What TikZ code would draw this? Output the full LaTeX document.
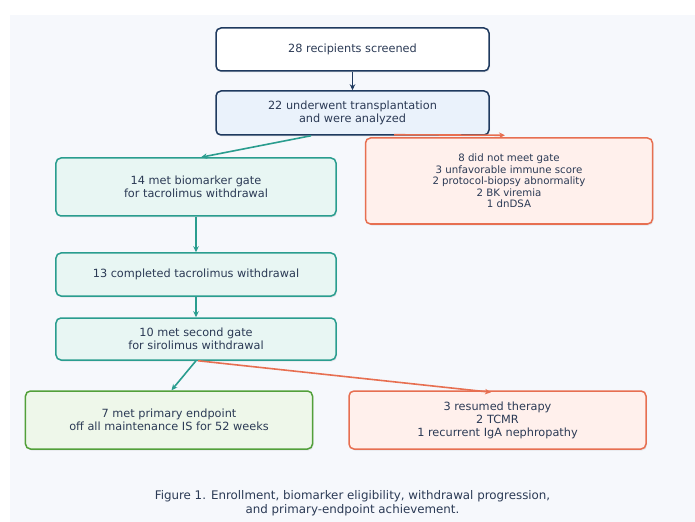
\documentclass[tikz,border=0pt]{standalone}
\usepackage{fontspec}
\setmainfont{DejaVu Sans}
\usetikzlibrary{arrows.meta,calc}
\definecolor{navy}{HTML}{1F3A5F}
\definecolor{txt}{HTML}{2B3A55}
\definecolor{bluefill}{HTML}{EAF2FB}
\definecolor{teal}{HTML}{2A9D8F}
\definecolor{tealfill}{HTML}{E8F6F3}
\definecolor{coral}{HTML}{E76F51}
\definecolor{coralfill}{HTML}{FFF0EC}
\definecolor{grn}{HTML}{52A03A}
\definecolor{grnfill}{HTML}{EEF7EA}
\definecolor{panel}{HTML}{F6F8FC}
\begin{document}
\begin{tikzpicture}[x=1bp,y=-1bp,
  box/.style={draw, rounded corners=5bp, line width=1.5bp, align=center, text=txt,
    inner sep=0pt, font=\fontsize{11.3bp}{13bp}\selectfont},
  navybox/.style={box, draw=navy},
  tealbox/.style={box, draw=teal, fill=tealfill},
  coralbox/.style={box, draw=coral, fill=coralfill},
  grnbox/.style={box, draw=grn, fill=grnfill},
  shadowed/.style={preaction={fill=black, opacity=0.07, transform canvas={xshift=1bp, yshift=-1.5bp}}},
  conn/.style={line width=1.6bp, -{Stealth[length=6bp,width=5.5bp]}},
]
\useasboundingbox (0,0) rectangle (695,522);
\fill[white] (0,0) rectangle (695,522);
\fill[panel] (10,15) rectangle (695,522);

\node[navybox, shadowed, fill=white, minimum width=273bp, minimum height=43bp] (b1) at (352.5,49.5) {28 recipients screened};
\node[navybox, shadowed, fill=bluefill, minimum width=273bp, minimum height=44bp] (b2) at (352.5,113) {22 underwent transplantation\\and were analyzed};
\node[tealbox, shadowed, minimum width=280bp, minimum height=58bp] (b3) at (196,187) {14 met biomarker gate\\for tacrolimus withdrawal};
\node[coralbox, shadowed, minimum width=287bp, minimum height=86bp, font=\fontsize{10.2bp}{11.5bp}\selectfont] (r1) at (509,181) {8 did not meet gate\\3 unfavorable immune score\\2 protocol-biopsy abnormality\\2 BK viremia\\1 dnDSA};
\node[tealbox, shadowed, minimum width=280bp, minimum height=43bp] (b4) at (196,274.5) {13 completed tacrolimus withdrawal};
\node[tealbox, shadowed, minimum width=280bp, minimum height=42bp] (b5) at (196,339) {10 met second gate\\for sirolimus withdrawal};
\node[grnbox, shadowed, minimum width=287bp, minimum height=58bp] (g) at (169,420) {7 met primary endpoint\\off all maintenance IS for 52 weeks};
\node[coralbox, shadowed, minimum width=297bp, minimum height=58bp] (r2) at (497.5,420) {3 resumed therapy\\2 TCMR\\1 recurrent IgA nephropathy};

\node[align=center, text=txt, font=\fontsize{11.85bp}{14bp}\selectfont, inner sep=0pt] (cap) at (352.5,503) {Figure 1. Enrollment, biomarker eligibility, withdrawal progression,\\and primary-endpoint achievement.};

\draw[conn, navy] (b1.south) -- (b2.north);
\draw[conn, teal] ($(b2.south)+(-41.5,0)$) -- ($(b3.north)+(5,0)$);
\draw[conn, coral] ($(b2.south)+(41.5,-1)$) -- ($(r1.north)+(-4,-2)$);
\draw[conn, teal] (b3.south) -- (b4.north);
\draw[conn, teal] (b4.south) -- (b5.north);
\draw[conn, teal] (b5.south) -- ($(g.north)+(2.5,0)$);
\draw[conn, coral] ($(b5.south)+(2,0)$) -- ($(r2.north)+(-6.5,2)$);
\end{tikzpicture}
\end{document}
